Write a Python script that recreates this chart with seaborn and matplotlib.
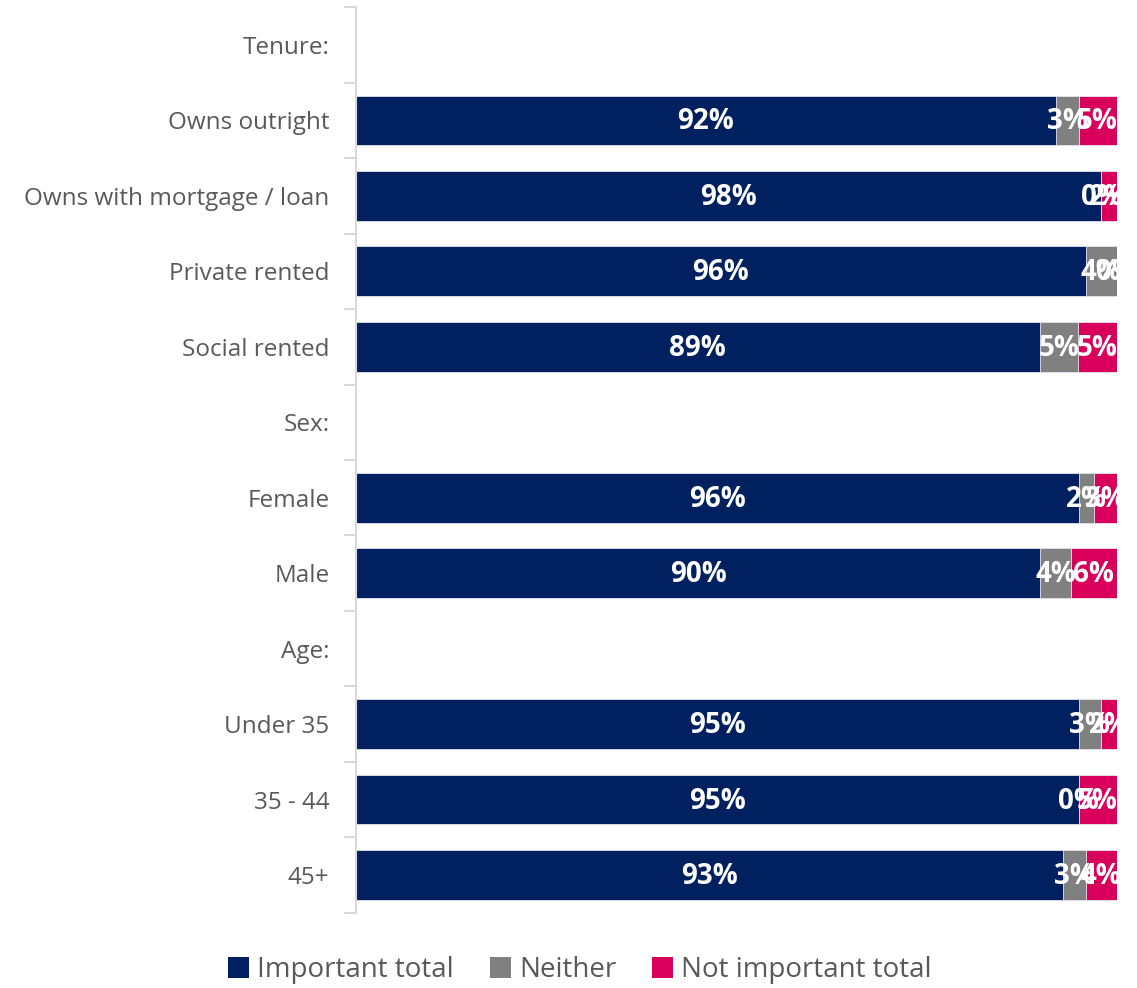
import numpy as np
import pandas as pd
import matplotlib
matplotlib.use("Agg")
import matplotlib.pyplot as plt
from matplotlib.patches import Patch
import seaborn as sns

categories = ["Tenure:", "Owns outright", "Owns with mortgage / loan", "Private rented",
              "Social rented", "Sex:", "Female", "Male", "Age:", "Under 35", "35 - 44", "45+"]
important = [np.nan, 92, 98, 96, 89, np.nan, 96, 90, np.nan, 95, 95, 93]
neither = [np.nan, 3, 0, 4, 5, np.nan, 2, 4, np.nan, 3, 0, 3]
not_important = [np.nan, 5, 2, 0, 5, np.nan, 3, 6, np.nan, 2, 5, 4]
series_names = ["Important total", "Neither", "Not important total"]
colors = ["#002060", "#808080", "#D9005B"]

sns.set_theme(style="white")
plt.rcParams['font.family'] = ['Open Sans', 'DejaVu Sans']

df = pd.DataFrame({"cat": categories, "imp": important, "nei": neither, "no": not_important})
tot = df[["imp", "nei", "no"]].sum(axis=1, min_count=1)
df["s_imp"] = df["imp"] / tot
df["s_nei"] = df["nei"] / tot
df["s_no"] = df["no"] / tot
df["c1"] = df["s_imp"]
df["c2"] = df["s_imp"] + df["s_nei"]
df["c3"] = df["c2"] + df["s_no"]

fig = plt.figure(figsize=(11.37, 9.88), dpi=100)
ax = fig.add_axes([0.313, 0.0762, 0.669, 0.9164])

for col, c in zip(["c3", "c2", "c1"], [colors[2], colors[1], colors[0]]):
    sns.barplot(data=df, x=col, y="cat", order=categories, color=c, orient="h",
                width=0.66, ax=ax, errorbar=None, saturation=1,
                edgecolor="#e8e8f0", linewidth=0.6)

for i, row in df.iterrows():
    if np.isnan(row["imp"]):
        continue
    starts = [0, row["c1"], row["c2"]]
    widths = [row["s_imp"], row["s_nei"], row["s_no"]]
    vals = [row["imp"], row["nei"], row["no"]]
    for s, w, v in zip(starts, widths, vals):
        ax.text(s + w / 2, i + 0.02, f"{int(v)}%", ha="center", va="center", color="white",
                fontsize=20, fontweight="bold")

ax.set_xlim(0, 1)
ax.set_ylim(len(categories) - 0.5, -0.5)
ax.set_xlabel("")
ax.set_ylabel("")
ax.set_xticks([])
for sp in ["top", "right", "bottom"]:
    ax.spines[sp].set_visible(False)
ax.spines["left"].set_color("#d9d9d9")
ax.spines["left"].set_linewidth(1.5)
ax.tick_params(axis="y", which="major", length=0, pad=19, labelsize=17.5, labelcolor="#595959")
ax.set_yticks(np.arange(-0.5, len(categories) + 0.5, 1), minor=True)
ax.tick_params(axis="y", which="minor", length=9, width=1.5, color="#d9d9d9", left=True)

handles = [Patch(facecolor=c, edgecolor="none") for c in colors]
leg = fig.legend(handles, series_names, loc="center", bbox_to_anchor=(0.51, 0.018), ncol=3,
                 frameon=False, fontsize=20, handlelength=0.75, handleheight=0.75,
                 handletextpad=0.3, columnspacing=1.3)
for t in leg.get_texts():
    t.set_color("#595959")

fig.savefig("out.png", dpi=100)
